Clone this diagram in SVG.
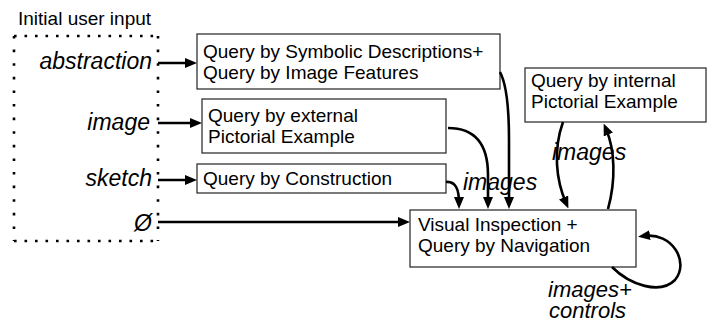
<svg xmlns="http://www.w3.org/2000/svg" width="707" height="323" viewBox="0 0 707 323">
<style>
text{font-family:"Liberation Sans",Arial,sans-serif;fill:#000}
.t{font-size:19px}
.l{font-size:23px;font-style:italic}
.s{font-size:22px;font-style:italic}
.box{fill:#fff;stroke:#222;stroke-width:1.2}
.c{fill:none;stroke:#000;stroke-width:2.6;marker-end:url(#ah)}
.dot{fill:none;stroke:#000;stroke-width:2.6}
</style>
<defs>
<marker id="ah" viewBox="0 0 12 10" refX="6" refY="5" markerWidth="12" markerHeight="10" orient="auto" markerUnits="userSpaceOnUse">
<path d="M0,0 L12,5 L0,10 z" fill="#000"/>
</marker>
</defs>
<g id="input">
<text class="t" x="18" y="25">Initial user input</text>
<path class="dot" d="M14,36 H158" stroke-dasharray="2.6 7.9"/>
<path class="dot" d="M14,241 H158" stroke-dasharray="2.6 7.9"/>
<path class="dot" d="M14,36 V241" stroke-dasharray="2.6 11"/>
<path class="dot" d="M158,36 V241" stroke-dasharray="2.6 11"/>
<text class="l" x="152" y="69" text-anchor="end">abstraction</text>
<text class="l" x="150" y="130" text-anchor="end">image</text>
<text class="l" x="152" y="186" text-anchor="end">sketch</text>
<text class="l" x="152" y="231" text-anchor="end">Ø</text>
</g>
<g id="symbolic">
<rect class="box" x="197" y="34" width="303" height="55"/>
<text class="t" x="203" y="58">Query by Symbolic Descriptions+</text>
<text class="t" x="203" y="79">Query by Image Features</text>
</g>
<g id="external">
<rect class="box" x="202" y="99" width="244" height="54"/>
<text class="t" x="208" y="122">Query by external</text>
<text class="t" x="208" y="143">Pictorial Example</text>
</g>
<g id="construction">
<rect class="box" x="197" y="164" width="249" height="29"/>
<text class="t" x="203" y="185">Query by Construction</text>
</g>
<g id="internal">
<rect class="box" x="525" y="68" width="181" height="54"/>
<text class="t" x="531" y="87">Query by internal</text>
<text class="t" x="531" y="108">Pictorial Example</text>
</g>
<g id="visual">
<rect class="box" x="410" y="210" width="226" height="57"/>
<text class="t" x="418" y="231">Visual Inspection +</text>
<text class="t" x="418" y="252">Query by Navigation</text>
</g>
<g id="connectors">
<path class="c" d="M158,63 H191"/>
<path class="c" d="M158,123 H196"/>
<path class="c" d="M158,180 H191"/>
<path class="c" d="M158,222 H404"/>
<path class="c" d="M446,182 C456,181 459,190 459,203"/>
<path class="c" d="M448,128 C480,128 488,150 488,175 L488,203"/>
<path class="c" d="M500,72 C507,85 509,110 509,140 L509,203"/>
<path class="c" d="M563,122 C553,150 556,180 566,203"/>
<path class="c" d="M608,209 C616,180 615,150 606,129"/>
<path class="c" d="M612,267 C630,285 660,295 675,280 C690,262 672,232 644,236"/>
<text class="l" x="463" y="190">images</text>
<text class="l" x="552" y="160">images</text>
<text class="s" x="548" y="297">images+</text>
<text class="s" x="549" y="318">controls</text>
</g>
</svg>
